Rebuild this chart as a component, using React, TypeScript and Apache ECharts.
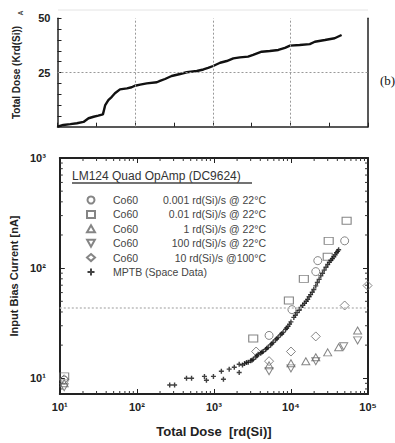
import React, { useEffect, useRef } from "react";
import * as echarts from "echarts";

// ---------- Top chart: cumulative total dose ----------
const topX = [0, 1.5, 3.3, 5.0, 6.7, 8.0, 9.3, 10.5, 11.7, 12.3, 13.1, 14.0, 14.8, 16.1, 17.9, 19.1, 20.0, 21.3, 23.0, 25.6, 26.4, 27.7, 29.4, 31.6, 33.3, 35.9, 37.6, 38.8, 40.1, 41.9, 43.6, 45.3, 47.0, 49.1, 50.4, 52.6, 54.7, 56.9, 58.6, 59.9, 62.4, 65.0, 66.3, 68.9, 71.4, 73.2];
const topY = [0, 0.8, 1.2, 1.6, 2.2, 3.9, 4.6, 5.1, 5.7, 10.0, 12.3, 13.8, 15.4, 17.2, 17.7, 18.2, 18.9, 19.4, 20.0, 20.5, 21.1, 22.0, 23.4, 24.3, 25.1, 25.7, 26.4, 27.1, 28.0, 29.5, 30.3, 31.5, 32.0, 32.3, 33.1, 34.6, 34.9, 35.4, 36.4, 37.4, 37.7, 38.1, 39.2, 40.0, 40.8, 42.3];
const topYLabels = [25, 50];
const topGridX = [20, 40, 60];
const topGridY = [25];

// ---------- Bottom chart: input bias current vs total dose ----------
const seriesNames = [
  "Co60 0.001 rd(Si)/s @ 22°C",
  "Co60 0.01 rd(Si)/s @ 22°C",
  "Co60 1 rd(Si)/s @ 22°C",
  "Co60 100 rd(Si)/s @ 22°C",
  "Co60 10 rd(Si)/s @100°C",
  "MPTB (Space Data)",
];

const circX = [11.4, 5200, 10300, 21000, 22300, 49800];
const circY = [9.6, 24.5, 42, 93, 117, 177];

const sqX = [11.4, 3240, 9400, 14700, 30000, 30900, 52800];
const sqY = [10.4, 23, 50.8, 80, 127, 177, 269];

const triUpX = [11.4, 5200, 10000, 15600, 21000, 30000, 41600, 73300];
const triUpY = [9.0, 13.1, 13.7, 14.3, 15.5, 17.2, 19.1, 27.2];

const triDnX = [11.4, 5200, 10000, 21000, 48300, 73300];
const triDnY = [8.3, 11.6, 12.3, 14.3, 19.5, 22.1];

const diaX = [11.4, 3530, 5200, 10000, 21000, 49800, 98600];
const diaY = [9.8, 17.5, 14.3, 17.5, 24, 45.8, 69.5];

const mptbX = [267, 309, 441, 513, 754, 800, 986, 1250, 1330, 1580, 1840, 2130, 2130, 2350, 2500, 2650, 2790, 3000, 3120, 3240, 3500, 3620, 3750, 4050, 4200, 4350, 4700, 4850, 5050, 5450, 5650, 5860, 6300, 6550, 6800, 7300, 7600, 7900, 8500, 8800, 9150, 9600, 10000, 10900, 11400, 12000, 12800, 13500, 14200, 15000, 15800, 16500, 17200, 18000, 18900, 19800, 21000, 22000, 23200, 24400, 25700, 27000, 28500, 30000, 31500, 33000, 34500, 36000, 37500, 39000, 40300, 41600];
const mptbY = [8.7, 8.7, 10, 10, 10.4, 9.6, 10.4, 11.6, 9.8, 12.1, 12.6, 13.4, 11.3, 13.2, 13.6, 13.9, 14, 14.4, 14.6, 14.9, 15.6, 16.0, 16.5, 16.9, 17.2, 17.5, 18.3, 18.7, 19.1, 20.1, 20.6, 21.2, 22.3, 22.9, 23.5, 24.8, 25.4, 26.1, 27.8, 28.6, 29.6, 31.0, 32.5, 35.7, 37.4, 39.5, 41.5, 44, 46, 48, 50, 52, 55, 57.5, 60.5, 64, 69, 74, 79, 85, 90, 96, 102, 108, 113, 118, 122, 127, 132, 138, 142, 147];

const specLimit = [44];

const X_MIN = 10;
const X_MAX = 100000;
const Y_MIN = 7.2;
const Y_MAX = 1000;
const minorXTicks = [20, 30, 40, 50, 60, 70, 80, 90, 200, 300, 400, 500, 600, 700, 800, 900, 2000, 3000, 4000, 5000, 6000, 7000, 8000, 9000, 20000, 30000, 40000, 50000, 60000, 70000, 80000, 90000];
const minorYTicks = [8, 9, 20, 30, 40, 50, 60, 70, 80, 90, 200, 300, 400, 500, 600, 700, 800, 900];

const FONT = '"Liberation Sans", Arial, sans-serif';
const SUP = ["⁰", "¹", "²", "³", "⁴", "⁵", "⁶"];
const TRI_DOWN = "path://M0 0H10L5 9Z";
const PLUS = "path://M3.6 0H6.4V3.6H10V6.4H6.4V10H3.6V6.4H0V3.6H3.6Z";

const zip = (xs: number[], ys: number[]) => xs.map((x, i) => [x, ys[i]]);

const logLabel = (v: number) => {
  const l = Math.log10(v);
  const e = Math.round(l);
  if (Math.abs(l - e) > 1e-6) return "";
  return "10" + SUP[e];
};

const hollow = (color: string) => ({
  color: "rgba(255,255,255,0)",
  borderColor: color,
  borderWidth: 1,
});

export default function App() {
  const ref = useRef<HTMLDivElement>(null);

  useEffect(() => {
    document.body.style.margin = "0";
    if (!ref.current) return;
    const chart = echarts.init(ref.current, null, { renderer: "svg" });

    const tickData = [
      ...minorXTicks.map((v) => [v, Y_MIN, 0]),
      ...minorYTicks.map((v) => [X_MIN, v, 1]),
    ];

    const ln = (x1: number, y1: number, x2: number, y2: number) => ({
      type: "line",
      shape: { x1, y1, x2, y2 },
      style: { stroke: "#333", lineWidth: 1 },
    });

    const option: any = {
      animation: false,
      backgroundColor: "#fff",
      textStyle: { fontFamily: FONT },
      grid: [
        { left: 57.5, top: 18.3, right: 27, height: 108.4 },
        { left: 57.5, top: 158, right: 27, bottom: 48 },
      ],
      xAxis: [
        {
          type: "value",
          gridIndex: 0,
          min: 0,
          max: 80,
          interval: 10,
          axisLine: { show: true, lineStyle: { color: "#222", width: 1.5 } },
          axisTick: { show: true, inside: true, length: 4, lineStyle: { color: "#222" } },
          axisLabel: { show: false },
          splitLine: { show: false },
        },
        {
          type: "log",
          logBase: 10,
          gridIndex: 1,
          min: X_MIN,
          max: X_MAX,
          position: "bottom",
          axisLine: { show: true, lineStyle: { color: "#222", width: 2 } },
          axisTick: { show: true, inside: true, length: 5, lineStyle: { color: "#222" } },
          axisLabel: {
            formatter: logLabel,
            fontSize: 11,
            fontWeight: "bold",
            color: "#222",
            margin: 7,
            fontFamily: FONT,
          },
          splitLine: { show: false },
          name: "Total Dose  [rd(Si)]",
          nameLocation: "middle",
          nameGap: 31,
          nameTextStyle: { fontSize: 13, fontWeight: "bold", color: "#222", fontFamily: FONT },
        },
        {
          type: "log",
          logBase: 10,
          gridIndex: 1,
          min: X_MIN,
          max: X_MAX,
          position: "top",
          axisLine: { show: true, lineStyle: { color: "#222", width: 2 } },
          axisTick: { show: true, inside: true, length: 5, lineStyle: { color: "#222" } },
          axisLabel: { show: false },
          splitLine: { show: false },
        },
      ],
      yAxis: [
        {
          type: "value",
          gridIndex: 0,
          min: 0,
          max: 50,
          interval: 5,
          axisLine: { show: true, lineStyle: { color: "#222", width: 1.5 } },
          axisTick: { show: true, inside: true, length: 4, lineStyle: { color: "#222" } },
          axisLabel: {
            formatter: (v: number) => (topYLabels.includes(v) ? String(v) : ""),
            fontSize: 11,
            fontWeight: "bold",
            color: "#222",
            margin: 7,
            fontFamily: FONT,
          },
          splitLine: { show: false },
          name: "Total Dose (Krd(Si))",
          nameLocation: "middle",
          nameGap: 36,
          nameTextStyle: { fontSize: 10, fontWeight: "bold", color: "#222", fontFamily: FONT },
        },
        {
          type: "value",
          gridIndex: 0,
          min: 0,
          max: 50,
          position: "right",
          axisLine: { show: true, lineStyle: { color: "#222", width: 1.5 } },
          axisTick: { show: false },
          axisLabel: { show: false },
          splitLine: { show: false },
        },
        {
          type: "log",
          logBase: 10,
          gridIndex: 1,
          min: Y_MIN,
          max: Y_MAX,
          position: "left",
          axisLine: { show: true, lineStyle: { color: "#222", width: 2 } },
          axisTick: { show: true, inside: true, length: 5, lineStyle: { color: "#222" } },
          axisLabel: {
            formatter: logLabel,
            fontSize: 11,
            fontWeight: "bold",
            color: "#222",
            margin: 14,
            fontFamily: FONT,
            showMinLabel: false,
          },
          splitLine: { show: false },
          name: "Input Bias Current [nA]",
          nameLocation: "middle",
          nameGap: 31,
          nameTextStyle: { fontSize: 11, fontWeight: "bold", color: "#222", fontFamily: FONT },
        },
        {
          type: "log",
          logBase: 10,
          gridIndex: 1,
          min: Y_MIN,
          max: Y_MAX,
          position: "right",
          axisLine: { show: true, lineStyle: { color: "#222", width: 2 } },
          axisTick: { show: true, inside: true, length: 5, lineStyle: { color: "#222" } },
          axisLabel: { show: false },
          splitLine: { show: false },
        },
      ],
      legend: {
        data: seriesNames.map((n, i) => (i === 3 ? { name: n, icon: TRI_DOWN } : { name: n })),
        orient: "vertical",
        left: 81,
        top: 189,
        itemWidth: 8,
        itemHeight: 7,
        itemGap: 2.4,
        selectedMode: false,
        formatter: (name: string) => {
          if (name.startsWith("Co60 ")) {
            return `{p| }{a|Co60}{b|${name.slice(5)}}`;
          }
          return `{p| }{m|${name}}`;
        },
        textStyle: {
          fontFamily: FONT,
          fontSize: 10.5,
          color: "#444",
          lineHeight: 12,
          rich: {
            p: { width: 13, fontSize: 10.5, lineHeight: 12 },
            a: { width: 40, fontSize: 10.5, color: "#444", lineHeight: 12 },
            b: { width: 113, align: "right", fontSize: 10.5, color: "#444", lineHeight: 12 },
            m: { fontSize: 10.5, color: "#444", lineHeight: 12 },
          },
        },
      },
      graphic: [
        {
          type: "line",
          shape: { x1: 58, y1: 10, x2: 368, y2: 10 },
          style: { stroke: "#e4e4e4", lineWidth: 1 },
        },
        {
          type: "text",
          x: 20,
          y: 13,
          rotation: Math.PI / 2,
          style: {
            text: "A",
            fontSize: 7,
            fontWeight: "bold",
            fontFamily: FONT,
            fill: "#444",
            align: "center",
            verticalAlign: "middle",
          },
        },
        {
          type: "text",
          x: 380,
          y: 80,
          style: {
            text: "(b)",
            fontSize: 13,
            fontFamily: '"Liberation Serif", "Times New Roman", serif',
            fill: "#111",
            verticalAlign: "middle",
          },
        },
        {
          type: "text",
          x: 72,
          y: 176,
          style: {
            text: "LM124 Quad OpAmp (DC9624)",
            fontSize: 12,
            fontFamily: FONT,
            fill: "#333",
            verticalAlign: "middle",
          },
        },
        {
          type: "line",
          shape: { x1: 72, y1: 183, x2: 252, y2: 183 },
          style: { stroke: "#444", lineWidth: 1.3 },
        },
      ],
      series: [
        {
          type: "line",
          xAxisIndex: 0,
          yAxisIndex: 0,
          data: zip(topX, topY),
          showSymbol: false,
          lineStyle: { color: "#111", width: 2.4 },
          z: 3,
          markLine: {
            silent: true,
            symbol: "none",
            label: { show: false },
            lineStyle: { type: [2, 2], color: "#999", width: 1 },
            data: [
              ...topGridX.map((v) => ({ xAxis: v })),
              ...topGridY.map((v) => ({ yAxis: v })),
            ],
          },
        },
        {
          name: seriesNames[0],
          type: "scatter",
          xAxisIndex: 1,
          yAxisIndex: 2,
          data: zip(circX, circY),
          symbol: "circle",
          symbolSize: 8,
          itemStyle: hollow("#666"),
        },
        {
          name: seriesNames[1],
          type: "scatter",
          xAxisIndex: 1,
          yAxisIndex: 2,
          data: zip(sqX, sqY),
          symbol: "rect",
          symbolSize: [9, 7],
          itemStyle: hollow("#666"),
        },
        {
          name: seriesNames[2],
          type: "scatter",
          xAxisIndex: 1,
          yAxisIndex: 2,
          data: zip(triUpX, triUpY),
          symbol: "triangle",
          symbolSize: [8, 7],
          itemStyle: hollow("#666"),
        },
        {
          name: seriesNames[3],
          type: "scatter",
          xAxisIndex: 1,
          yAxisIndex: 2,
          data: zip(triDnX, triDnY),
          symbol: TRI_DOWN,
          symbolSize: [8, 7],
          itemStyle: hollow("#666"),
        },
        {
          name: seriesNames[4],
          type: "scatter",
          xAxisIndex: 1,
          yAxisIndex: 2,
          data: zip(diaX, diaY),
          symbol: "diamond",
          symbolSize: [9, 9],
          itemStyle: hollow("#666"),
        },
        {
          name: seriesNames[5],
          type: "scatter",
          xAxisIndex: 1,
          yAxisIndex: 2,
          data: zip(mptbX, mptbY),
          symbol: PLUS,
          symbolSize: 5,
          itemStyle: { color: "#111" },
          markLine: {
            silent: true,
            symbol: "none",
            label: { show: false },
            lineStyle: { type: [2, 2], color: "#bdbdbd", width: 1.5 },
            data: specLimit.map((v) => ({ yAxis: v })),
          },
        },
        {
          type: "custom",
          xAxisIndex: 1,
          yAxisIndex: 2,
          silent: true,
          clip: false,
          data: tickData,
          renderItem: (_params: any, api: any) => {
            const kind = api.value(2);
            if (kind === 0) {
              const v = api.value(0);
              const b = api.coord([v, Y_MIN]);
              const t = api.coord([v, Y_MAX]);
              return {
                type: "group",
                children: [ln(b[0], b[1], b[0], b[1] - 3), ln(t[0], t[1], t[0], t[1] + 3)],
              };
            }
            const v = api.value(1);
            const l = api.coord([X_MIN, v]);
            const r = api.coord([X_MAX, v]);
            return {
              type: "group",
              children: [ln(l[0], l[1], l[0] + 3, l[1]), ln(r[0], r[1], r[0] - 3, r[1])],
            };
          },
        },
      ],
    };

    chart.setOption(option);
    return () => chart.dispose();
  }, []);

  return <div ref={ref} style={{ width: 395, height: 443 }} />;
}
